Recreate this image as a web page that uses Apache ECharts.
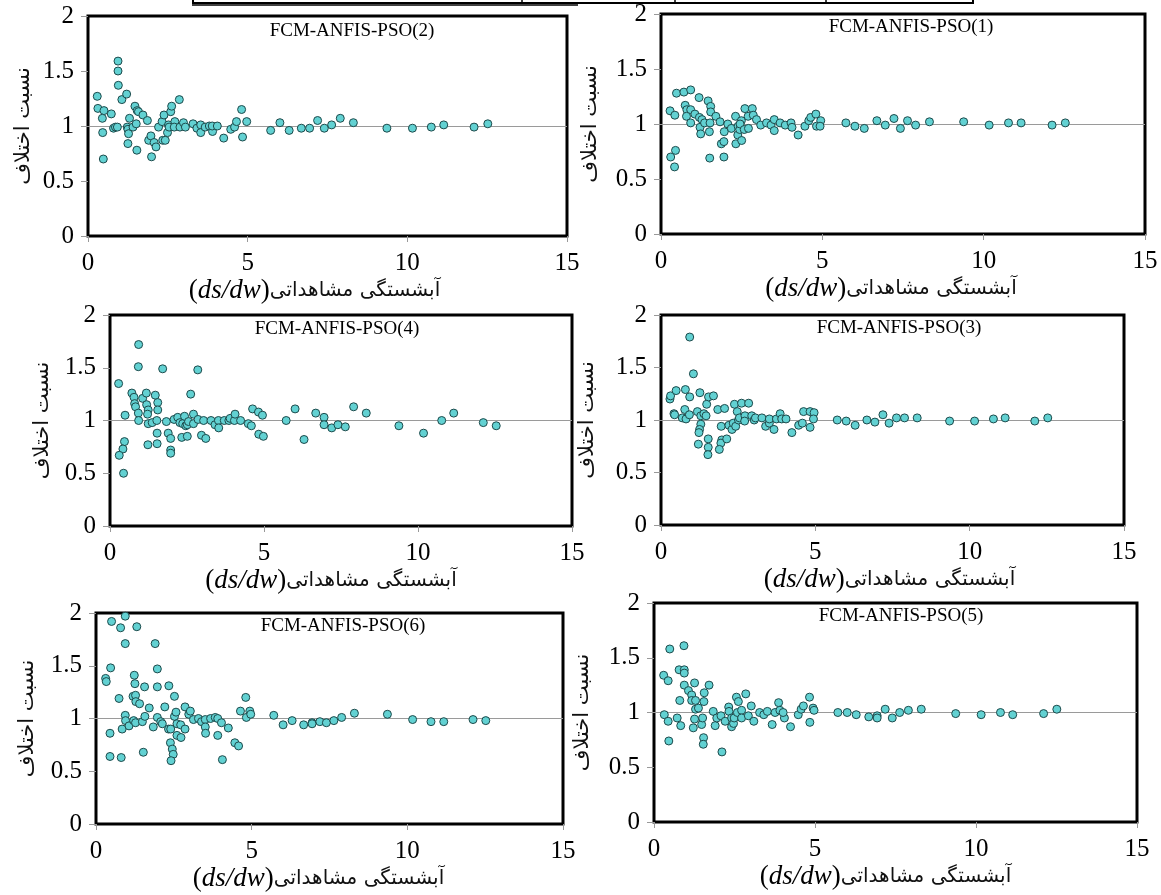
<!DOCTYPE html>
<html><head><meta charset="utf-8">
<script src="https://cdn.jsdelivr.net/npm/echarts@6/dist/echarts.min.js"></script>
<style>html,body{margin:0;padding:0;background:#fff}#c{width:1161px;height:895px}</style>
</head><body><div id="c"></div>
<script>
// ---- data ----
const titles = ['FCM-ANFIS-PSO(1)','FCM-ANFIS-PSO(2)','FCM-ANFIS-PSO(3)','FCM-ANFIS-PSO(4)','FCM-ANFIS-PSO(5)','FCM-ANFIS-PSO(6)'];
const xAxisName = '(ds/dw)آبشستگی مشاهداتی';
const yAxisName = 'نسبت اختلاف';
const xTicks = [0, 5, 10, 15];
const yTicks = [0, 0.5, 1, 1.5, 2];
const refValue = 1;

const x1 = [0.28,0.43,0.30,0.45,0.42,0.48,0.71,0.92,0.75,0.80,0.92,0.79,0.92,1.05,1.18,1.19,1.27,1.21,1.23,1.35,1.46,1.54,1.54,1.52,1.50,1.51,1.70,1.83,1.87,1.95,1.96,1.95,2.07,2.18,2.31,2.32,2.38,2.39,2.44,2.49,2.50,2.45,2.58,2.60,2.71,2.70,2.83,2.86,2.96,3.09,3.27,3.41,3.51,3.51,3.69,3.85,4.03,4.06,4.25,4.46,4.58,4.64,4.80,4.82,4.95,4.93,5.73,6.01,6.30,6.69,6.95,7.22,7.42,7.64,7.89,8.32,9.38,10.17,10.77,11.16,12.12,12.53];
const y1 = [1.12,1.08,0.70,0.76,0.61,1.28,1.29,1.31,1.17,1.13,1.13,1.07,1.01,1.09,1.24,1.06,1.04,0.97,0.91,1.01,1.21,1.16,1.11,1.01,0.93,0.69,1.07,1.02,0.82,0.84,0.93,0.70,1.00,0.96,1.07,0.82,0.90,0.98,0.95,1.03,0.85,1.00,0.95,1.14,0.96,1.07,1.14,1.08,1.04,0.99,1.01,0.99,1.04,0.94,1.01,0.99,1.01,0.97,0.90,0.98,1.03,1.06,1.09,0.98,1.03,0.98,1.01,0.98,0.96,1.03,0.99,1.05,0.96,1.03,0.99,1.02,1.02,0.99,1.01,1.01,0.99,1.01];

const x2 = [0.29,0.31,0.50,0.45,0.46,0.48,0.73,0.80,0.86,0.92,0.94,0.94,0.95,1.06,1.21,1.23,1.30,1.25,1.27,1.25,1.41,1.51,1.47,1.54,1.58,1.53,1.72,1.86,1.90,1.97,1.99,2.07,2.13,2.21,2.32,2.38,2.34,2.42,2.49,2.52,2.59,2.62,2.54,2.72,2.70,2.86,2.88,2.99,3.05,3.29,3.41,3.53,3.53,3.67,3.80,3.90,3.89,4.05,4.25,4.47,4.59,4.65,4.81,4.84,4.97,5.72,6.01,6.30,6.68,6.94,7.19,7.40,7.63,7.90,8.31,9.36,10.16,10.75,11.14,12.09,12.52];
const y2 = [1.27,1.16,1.14,1.07,0.94,0.70,1.11,0.98,0.99,0.99,1.59,1.50,1.37,1.24,1.29,0.99,1.07,0.97,0.93,0.84,0.99,1.02,1.18,1.14,1.13,0.78,1.10,1.05,0.87,0.91,0.72,0.85,0.81,0.99,1.04,1.10,0.87,0.87,0.94,1.01,1.13,1.18,0.99,1.04,0.99,1.24,0.99,1.03,0.99,1.02,0.98,1.01,0.94,0.99,1.00,0.95,1.00,1.00,0.89,0.97,0.99,1.04,1.15,0.90,1.04,0.96,1.03,0.96,0.98,0.98,1.05,0.98,1.01,1.07,1.03,0.98,0.98,0.99,1.01,0.99,1.02];

const x3 = [0.29,0.31,0.42,0.44,0.49,0.69,0.77,0.79,0.81,0.92,0.93,0.93,1.05,1.18,1.26,1.29,1.29,1.25,1.23,1.21,1.39,1.46,1.48,1.54,1.70,1.53,1.53,1.52,1.84,1.95,2.06,1.97,1.94,2.13,1.89,2.20,2.30,2.34,2.38,2.42,2.47,2.51,2.54,2.61,2.72,2.71,2.84,2.94,3.02,3.06,3.27,3.39,3.51,3.51,3.66,3.74,3.86,3.91,4.05,4.24,4.46,4.58,4.62,4.83,4.83,4.96,4.94,5.71,6.00,6.29,6.67,6.93,7.19,7.39,7.63,7.89,8.30,9.35,10.16,10.77,11.15,12.11,12.53];
const y3 = [1.20,1.23,1.06,1.05,1.28,1.02,1.10,1.29,1.01,1.05,1.22,1.79,1.44,1.08,1.26,1.04,0.96,0.91,0.88,0.77,1.06,1.04,1.15,1.22,1.23,0.82,0.74,0.67,1.10,0.94,1.11,0.81,0.78,0.82,0.72,0.95,0.91,0.97,1.15,0.94,1.08,1.00,1.02,1.16,1.04,0.99,1.16,1.04,1.00,1.02,1.02,0.94,0.97,1.01,0.91,1.01,1.06,1.01,1.01,0.88,0.95,0.97,1.08,1.08,0.93,1.07,1.01,1.00,0.99,0.95,1.00,0.98,1.05,0.97,1.02,1.02,1.02,0.99,0.99,1.01,1.02,0.99,1.02];

const x4 = [0.28,0.49,0.47,0.42,0.30,0.44,0.93,0.92,0.71,0.78,0.80,0.83,0.92,0.93,1.06,1.18,1.19,1.24,1.22,1.24,1.23,1.37,1.47,1.55,1.55,1.52,1.53,1.53,1.71,1.83,1.89,1.97,1.97,1.97,2.08,2.20,2.27,2.33,2.36,2.42,2.46,2.51,2.51,2.55,2.62,2.71,2.71,2.85,2.86,2.97,3.04,3.11,3.28,3.41,3.52,3.53,3.71,3.86,3.90,4.04,4.06,4.24,4.49,4.59,4.63,4.82,4.95,4.83,4.98,5.72,6.01,6.30,6.68,6.95,6.95,7.20,7.40,7.64,7.91,8.32,9.38,10.18,10.77,11.16,12.12,12.54];
const y4 = [1.35,1.05,0.80,0.73,0.67,0.50,1.72,1.51,1.26,1.22,1.16,1.13,1.07,1.00,1.21,1.26,1.15,1.10,1.06,0.97,0.77,0.98,1.24,1.17,1.10,1.00,0.88,0.78,1.49,0.99,0.88,0.83,0.72,0.69,1.01,1.03,0.98,0.84,0.97,1.04,0.95,0.85,0.96,0.99,1.25,0.97,1.06,1.48,1.01,0.86,1.00,0.83,1.00,0.96,1.00,0.93,1.00,1.00,1.02,1.00,1.06,1.00,0.97,0.95,1.11,1.08,1.05,0.87,0.85,1.00,1.11,0.82,1.07,1.03,0.96,0.93,0.96,0.94,1.13,1.07,0.95,0.88,1.00,1.07,0.98,0.95];

const x5 = [0.30,0.32,0.44,0.44,0.46,0.49,0.72,0.78,0.80,0.83,0.93,0.94,0.94,0.94,1.07,1.17,1.17,1.22,1.26,1.29,1.29,1.26,1.38,1.48,1.51,1.54,1.53,1.55,1.56,1.71,1.84,1.90,1.95,2.08,2.11,2.21,2.32,2.33,2.41,2.41,2.47,2.49,2.56,2.62,2.59,2.72,2.72,2.85,2.93,3.02,3.10,3.28,3.41,3.52,3.67,3.76,3.87,3.91,4.05,4.01,4.24,4.48,4.57,4.64,4.83,4.84,4.94,4.97,5.71,6.00,6.28,6.67,6.93,6.93,7.18,7.40,7.63,7.90,8.30,9.37,10.16,10.76,11.14,12.10,12.51];
const y5 = [1.34,0.98,1.29,0.92,0.74,1.58,0.95,1.39,1.11,0.88,1.61,1.39,1.36,1.25,1.20,1.16,1.11,0.86,1.27,1.11,1.03,0.94,1.04,0.89,0.95,0.77,0.71,1.10,1.18,1.25,1.01,0.88,0.95,0.97,0.64,0.92,1.05,1.01,0.95,0.87,0.90,0.95,1.14,1.10,1.00,1.02,0.95,1.17,0.97,1.06,0.92,1.00,0.98,1.01,0.89,1.00,1.09,1.02,0.95,1.00,0.87,0.98,1.03,1.06,1.14,0.91,1.04,1.02,1.00,1.00,0.98,0.96,0.97,0.95,1.03,0.95,1.00,1.02,1.03,0.99,0.98,1.00,0.98,0.99,1.03];

const x6 = [0.31,0.33,0.47,0.50,0.45,0.45,0.74,0.79,0.81,0.84,0.94,0.94,0.94,0.95,1.06,1.19,1.23,1.25,1.27,1.28,1.21,1.27,1.31,1.40,1.49,1.52,1.57,1.56,1.71,1.84,1.90,1.97,1.97,1.97,2.08,2.13,2.21,2.34,2.33,2.40,2.39,2.45,2.48,2.41,2.52,2.52,2.57,2.60,2.60,2.72,2.73,2.86,2.86,2.98,3.03,3.13,3.29,3.39,3.51,3.51,3.52,3.68,3.83,3.91,3.91,4.03,4.06,4.25,4.46,4.58,4.64,4.81,4.83,4.94,4.97,5.71,6.01,6.30,6.67,6.94,6.94,7.19,7.40,7.64,7.89,8.30,9.36,10.17,10.76,11.17,12.11,12.52];
const y6 = [1.38,1.35,1.48,1.92,0.86,0.64,1.19,1.86,0.63,0.90,1.97,1.71,1.03,0.98,0.93,1.21,1.41,1.33,1.22,1.16,0.98,0.96,1.87,1.14,0.97,0.68,1.02,1.30,1.10,0.92,1.71,1.47,1.30,1.01,0.97,0.95,1.11,1.31,0.90,0.90,0.77,0.71,0.66,0.60,1.21,1.02,1.06,0.95,0.84,0.94,0.82,0.90,1.11,1.04,1.07,0.99,1.00,0.97,0.99,0.92,0.86,1.00,1.01,0.84,1.00,0.96,0.61,0.91,0.77,0.74,1.07,1.20,1.01,1.07,1.04,1.03,0.94,0.98,0.94,0.96,0.95,0.97,0.96,0.98,1.01,1.05,1.04,0.99,0.97,0.97,0.99,0.98];

// ---- layout (positions/styles) ----
const panels = [
  {t:1, xs:x2, ys:y2, box:[88,16,479,220],  tc:[352,32],  yGap:54, xShift:-13},
  {t:0, xs:x1, ys:y1, box:[661,14,484,220], tc:[911,28],  yGap:60, xShift:-12},
  {t:3, xs:x4, ys:y4, box:[110,315,462,211],tc:[337,330], yGap:57, xShift:-10},
  {t:2, xs:x3, ys:y3, box:[661,315,463,210],tc:[899,329], yGap:63, xShift:-3},
  {t:5, xs:x6, ys:y6, box:[96,613,467,211], tc:[343,627], yGap:58, xShift:-11},
  {t:4, xs:x5, ys:y5, box:[654,603,483,219],tc:[901,617], yGap:61, xShift:-10}
];

const serif = '"Liberation Serif","Times New Roman",serif';
const fa = '"DejaVu Sans",sans-serif';
const xNameRich = '{p|(}{i|ds/dw}{p|)}{f|' + xAxisName.slice(7) + '}';

const option = {
  backgroundColor:'#fff',
  animation:false,
  title:[], grid:[], xAxis:[], yAxis:[], series:[],
  graphic:[
    {type:'line', shape:{x1:192,y1:3,x2:974,y2:3}, style:{stroke:'#000',lineWidth:2}},
    {type:'line', shape:{x1:192,y1:5,x2:578,y2:5}, style:{stroke:'#000',lineWidth:1.5}},
    {type:'line', shape:{x1:193,y1:0,x2:193,y2:4}, style:{stroke:'#000',lineWidth:2}},
    {type:'line', shape:{x1:522,y1:0,x2:522,y2:4}, style:{stroke:'#000',lineWidth:1.5}},
    {type:'line', shape:{x1:675,y1:0,x2:675,y2:4}, style:{stroke:'#000',lineWidth:1.5}},
    {type:'line', shape:{x1:826,y1:0,x2:826,y2:4}, style:{stroke:'#000',lineWidth:1.5}},
    {type:'line', shape:{x1:973,y1:0,x2:973,y2:4}, style:{stroke:'#000',lineWidth:2}}
  ]
};

panels.forEach((p, i) => {
  const [l, t, w, h] = p.box;
  option.title.push({
    text: titles[p.t], left: p.tc[0], top: p.tc[1] - 10, textAlign:'center', padding:0,
    textStyle:{fontFamily:serif, fontSize:19, fontWeight:'normal', color:'#000'}
  });
  option.grid.push({left:l, top:t, width:w, height:h, show:true, borderColor:'#000', borderWidth:3,
    backgroundColor:'transparent', containLabel:false, outerBoundsMode:'none'});
  option.xAxis.push({
    gridIndex:i, type:'value', min:xTicks[0], max:xTicks[xTicks.length-1], interval:xTicks[1]-xTicks[0],
    axisLine:{show:false}, splitLine:{show:false},
    axisTick:{show:true, length:6, lineStyle:{color:'#999', width:1}},
    axisLabel:{fontFamily:serif, fontSize:25, color:'#000', margin:15, showMinLabel:true, showMaxLabel:true},
    name: xNameRich, nameLocation:'middle', nameGap:40, nameMoveOverlap:false,
    nameTextStyle:{padding:[0, -2*p.xShift, 0, 0], rich:{
      p:{fontFamily:serif, fontSize:27, lineHeight:30, color:'#000'},
      i:{fontFamily:serif, fontStyle:'italic', fontSize:27, lineHeight:30, color:'#000'},
      f:{fontFamily:fa, fontSize:20, lineHeight:30, color:'#111'}
    }}
  });
  option.yAxis.push({
    gridIndex:i, type:'value', min:yTicks[0], max:yTicks[yTicks.length-1], interval:yTicks[1]-yTicks[0],
    axisLine:{show:false}, splitLine:{show:false},
    axisTick:{show:true, length:7, lineStyle:{color:'#999', width:1}},
    axisLabel:{fontFamily:serif, fontSize:25, color:'#000', margin:14, showMinLabel:true, showMaxLabel:true},
    name: yAxisName, nameLocation:'middle', nameRotate:90, nameGap:p.yGap, nameMoveOverlap:false,
    nameTextStyle:{fontFamily:fa, fontSize:21, color:'#111'}
  });
  option.series.push({
    type:'scatter', xAxisIndex:i, yAxisIndex:i, z:3,
    data: p.xs.map((x, k) => [x, p.ys[k]]),
    symbol:'circle', symbolSize:8,
    itemStyle:{color:'#62D1D2', borderColor:'#1d4a4b', borderWidth:1, opacity:1},
    markLine:{silent:true, z:1, symbol:['none','none'], label:{show:false},
      lineStyle:{color:'#9a9a9a', type:'solid', width:1}, data:[{yAxis:refValue}]}
  });
});

const chart = echarts.init(document.getElementById('c'), null, {renderer:'canvas'});
chart.setOption(option);
</script></body></html>
